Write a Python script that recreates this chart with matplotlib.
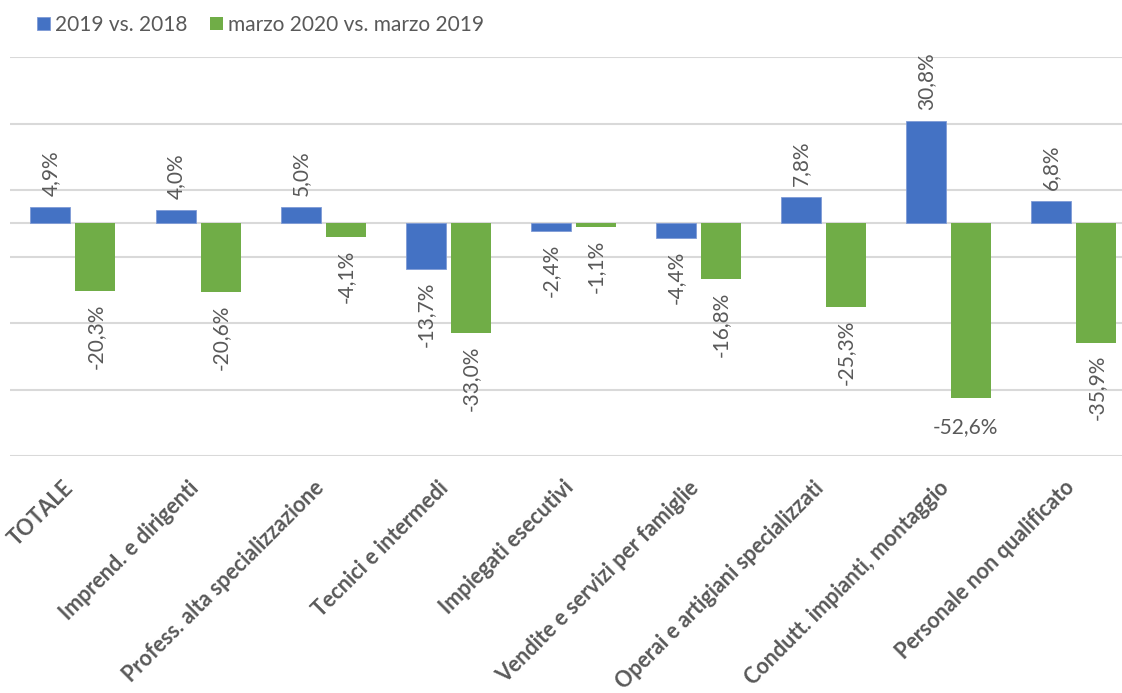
import matplotlib
matplotlib.use("Agg")
import matplotlib.pyplot as plt
import matplotlib.transforms as mtransforms
import numpy as np

categories = ["TOTALE", "Imprend. e dirigenti", "Profess. alta specializzazione",
              "Tecnici e intermedi", "Impiegati esecutivi", "Vendite e servizi per famiglie",
              "Operai e artigiani specializzati", "Condutt. impianti, montaggio",
              "Personale non qualificato"]
series_names = ["2019 vs. 2018", "marzo 2020 vs. marzo 2019"]
v2019 = [4.9, 4.0, 5.0, -13.7, -2.4, -4.4, 7.8, 30.8, 6.8]
vmarzo = [-20.3, -20.6, -4.1, -33.0, -1.1, -16.8, -25.3, -52.6, -35.9]
grid_ticks = [-70, -50, -30, -10, 10, 30, 50]

BLUE = "#4472C4"
GREEN = "#70AD47"
GREY_TXT = "#595959"
GRID = "#D9D9D9"

plt.rcParams['font.family'] = ['Lato', 'DejaVu Sans']

fig = plt.figure(figsize=(11.22, 6.93), dpi=100)
ax = fig.add_axes([10.4/1122, 1-456/693, 1126/1122, (456-57)/693])

x = np.arange(len(categories))
w = 0.32
off = 0.18
b1 = ax.bar(x - off, v2019, w, color=BLUE, edgecolor="#7F9BD6", linewidth=0.6, zorder=3, label=series_names[0])
b2 = ax.bar(x + off, vmarzo, w, color=GREEN, zorder=3, label=series_names[1])

ax.set_ylim(-70, 50)
ax.set_xlim(-0.5, len(categories) - 0.5)
ax.set_yticks(grid_ticks)
ax.yaxis.grid(True, color=GRID, linewidth=1.5, zorder=0)
ax.axhline(0, color=GRID, linewidth=1.5, zorder=2)
ax.tick_params(axis='y', left=False, labelleft=False)
for s in ax.spines.values():
    s.set_visible(False)

ax.set_xticks(x)
ax.set_xticklabels(categories, rotation=45, ha='right', va='center', rotation_mode='anchor',
                   fontsize=15.5, fontweight='bold', color=GREY_TXT)
ax.tick_params(axis='x', bottom=False, pad=17)
shift = mtransforms.ScaledTranslation(-3/100, 0, fig.dpi_scale_trans)
for lbl in ax.get_xticklabels():
    lbl.set_transform(lbl.get_transform() + shift)

def fmt(v):
    return f"{v:.1f}%".replace(".", ",")

for xs, vals in ((x - off, v2019), (x + off, vmarzo)):
    for xi, v in zip(xs, vals):
        if v == -52.6:
            ax.annotate(fmt(v), (xi, v), xytext=(-4, -14), textcoords='offset points',
                        ha='center', va='top', fontsize=15, color=GREY_TXT)
        elif v >= 0:
            ax.annotate(fmt(v), (xi, v), xytext=(0, 8), textcoords='offset points',
                        ha='center', va='bottom', rotation=90, fontsize=15, color=GREY_TXT)
        else:
            ax.annotate(fmt(v), (xi, v), xytext=(0, -9), textcoords='offset points',
                        ha='center', va='top', rotation=90, fontsize=15, color=GREY_TXT)

leg = fig.legend(handles=[b1, b2], labels=series_names, loc='center left',
                 bbox_to_anchor=(37/1122, 1-25/693), ncol=2, frameon=False,
                 fontsize=15, handlelength=0.6, handleheight=0.6, handletextpad=0.25,
                 columnspacing=1.1, labelcolor=GREY_TXT, borderaxespad=0, borderpad=0)

fig.savefig("out.png", dpi=100)
